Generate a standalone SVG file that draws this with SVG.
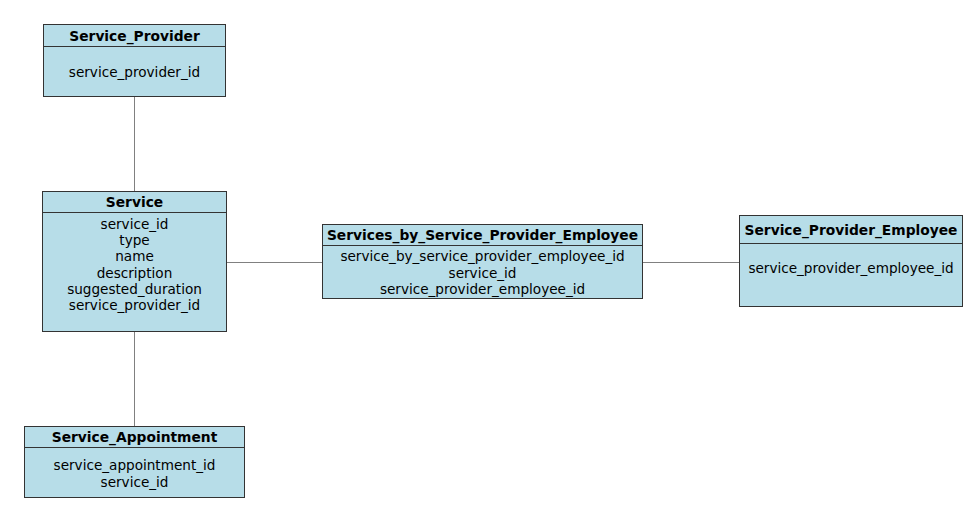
<svg xmlns="http://www.w3.org/2000/svg" width="980" height="521" viewBox="0 0 980 521">
<style>
.box{fill:#b7dde8;stroke:#333;stroke-width:1}
.div{stroke:#333;stroke-width:1}
.t{font-family:"DejaVu Sans",Verdana,sans-serif;font-size:13.8px;font-weight:bold;fill:#000;text-anchor:middle;dominant-baseline:central}
.a{font-family:"DejaVu Sans",Verdana,sans-serif;font-size:13.6px;fill:#000;text-anchor:middle;dominant-baseline:central}
.c{stroke:#808080;stroke-width:1;fill:none}
</style>
<rect width="980" height="521" fill="#fff"/>
<g id="connectors">
<line class="c" x1="134.5" y1="96" x2="134.5" y2="191"/>
<line class="c" x1="134.5" y1="331" x2="134.5" y2="426"/>
<line class="c" x1="226" y1="262.5" x2="322" y2="262.5"/>
<line class="c" x1="642" y1="262.5" x2="739" y2="262.5"/>
</g>
<g id="service_provider">
<rect class="box" x="43.5" y="24.5" width="182" height="72"/>
<line class="div" x1="43.5" y1="46.5" x2="225.5" y2="46.5"/>
<text class="t" x="134.5" y="36">Service_Provider</text>
<text class="a" x="134.5" y="72">service_provider_id</text>
</g>
<g id="service">
<rect class="box" x="42.5" y="191.5" width="184" height="140"/>
<line class="div" x1="42.5" y1="212.5" x2="226.5" y2="212.5"/>
<text class="t" x="134.5" y="202">Service</text>
<text class="a" x="134.5" y="223.5">service_id</text>
<text class="a" x="134.5" y="240">type</text>
<text class="a" x="134.5" y="256">name</text>
<text class="a" x="134.5" y="272.5">description</text>
<text class="a" x="134.5" y="289">suggested_duration</text>
<text class="a" x="134.5" y="305">service_provider_id</text>
</g>
<g id="service_appointment">
<rect class="box" x="24.5" y="426.5" width="220" height="71"/>
<line class="div" x1="24.5" y1="447.5" x2="244.5" y2="447.5"/>
<text class="t" x="134.5" y="437">Service_Appointment</text>
<text class="a" x="134.5" y="465">service_appointment_id</text>
<text class="a" x="134.5" y="482">service_id</text>
</g>
<g id="services_by_spe">
<rect class="box" x="322.5" y="224.5" width="320" height="74"/>
<line class="div" x1="322.5" y1="245.5" x2="642.5" y2="245.5"/>
<text class="t" x="482.5" y="235">Services_by_Service_Provider_Employee</text>
<text class="a" x="482.5" y="256">service_by_service_provider_employee_id</text>
<text class="a" x="482.5" y="272.5">service_id</text>
<text class="a" x="482.5" y="289">service_provider_employee_id</text>
</g>
<g id="service_provider_employee">
<rect class="box" x="739.5" y="215.5" width="223" height="91"/>
<line class="div" x1="739.5" y1="243.5" x2="962.5" y2="243.5"/>
<text class="t" x="851" y="230">Service_Provider_Employee</text>
<text class="a" x="851" y="268">service_provider_employee_id</text>
</g>
</svg>
